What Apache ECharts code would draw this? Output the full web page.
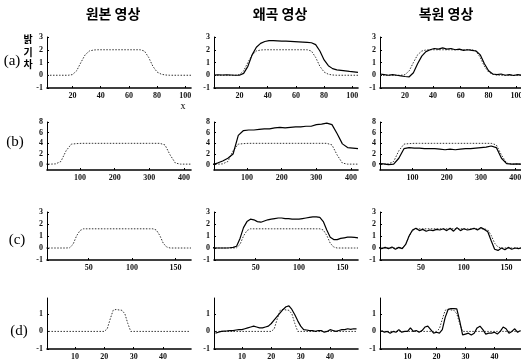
<!DOCTYPE html>
<html>
<head>
<meta charset="utf-8">
<script src="https://cdn.jsdelivr.net/npm/echarts@6/dist/echarts.min.js"></script>
<style>
  html, body { margin: 0; background: #fff; }
  #chart { width: 521px; height: 361px; }
</style>
</head>
<body>
<div id="chart"></div>
<script>
// column headings and row tags
const colTitles = ['원본 영상', '왜곡 영상', '복원 영상'];
const rowTags = ['(a)', '(b)', '(c)', '(d)'];

// row (a)
const aX = [2, 5, 8, 11, 14, 17, 20, 23, 26, 29, 32, 35, 38, 41, 44, 47, 50, 53, 56, 59, 62, 65, 68, 71, 74, 77, 80, 83, 86, 89, 92, 95, 98, 101, 104];
const aOrig = [0, 0, 0, 0, 0, 0, 0.05, 0.35, 1.0, 1.6, 1.9, 1.98, 2, 2, 2, 2, 2, 2, 2, 2, 2, 2, 2, 1.9, 1.4, 0.7, 0.25, 0.08, 0.02, 0, 0, 0, 0, 0, 0];
const aDist = [0.02, 0.03, 0.02, 0.04, 0.02, 0, 0, 0.15, 0.7, 1.6, 2.2, 2.5, 2.65, 2.72, 2.72, 2.7, 2.68, 2.68, 2.66, 2.64, 2.62, 2.6, 2.58, 2.55, 2.4, 1.9, 1.2, 0.75, 0.52, 0.42, 0.38, 0.34, 0.3, 0.27, 0.22];
const aRest = [0.1, 0.05, 0, 0.05, 0, -0.05, -0.1, -0.12, 0.2, 0.9, 1.5, 1.85, 2.0, 2.1, 2.05, 2.15, 2.05, 2.1, 2.0, 2.05, 1.95, 2.0, 1.95, 1.9, 1.6, 0.9, 0.35, 0.1, 0.05, 0.1, 0, 0.05, -0.02, 0.05, 0];
const aXTicks = [20, 40, 60, 80, 100];
const aYTicks = [-1, 0, 1, 2, 3];

// row (b)
const bX = [0, 15, 30, 45, 60, 75, 90, 105, 120, 135, 150, 165, 180, 195, 210, 225, 240, 255, 270, 285, 300, 315, 330, 345, 360, 375, 390, 405, 420];
const bOrig = [0.1, 0.1, 0.15, 0.6, 2.6, 3.85, 3.95, 4, 4, 4, 4, 4, 4, 4, 4, 4, 4, 4, 4, 4, 4, 4, 4, 3.7, 1.8, 0.3, 0.1, 0.1, 0.1];
const bDist = [0, 0.3, 0.7, 1.2, 2.0, 5.5, 6.4, 6.5, 6.5, 6.6, 6.7, 6.7, 6.9, 7.0, 6.9, 7.0, 7.1, 7.1, 7.2, 7.2, 7.5, 7.6, 7.8, 7.5, 5.8, 3.9, 3.2, 3.1, 3.0];
const bRest = [0.2, 0.15, 0, 0.1, 1.2, 3.0, 3.2, 3.1, 3.1, 3.0, 3.0, 3.0, 2.9, 2.8, 2.9, 2.8, 2.9, 3.0, 3.0, 3.1, 3.2, 3.3, 3.5, 3.2, 1.2, 0.2, 0.1, 0.15, 0.1];
const bXTicks = [100, 200, 300, 400];
const bYTicks = [0, 2, 4, 6, 8];

// row (c)
const cX = [0, 4, 8, 12, 16, 20, 24, 28, 32, 36, 40, 44, 48, 52, 56, 60, 64, 68, 72, 76, 80, 84, 88, 92, 96, 100, 104, 108, 112, 116, 120, 124, 128, 132, 136, 140, 144, 148, 152, 156, 160, 164, 168];
const cOrig = [0, 0, 0, 0, 0, 0, 0, 0.02, 0.3, 1.0, 1.45, 1.6, 1.6, 1.6, 1.6, 1.6, 1.6, 1.6, 1.6, 1.6, 1.6, 1.6, 1.6, 1.6, 1.6, 1.6, 1.6, 1.6, 1.6, 1.6, 1.6, 1.6, 1.5, 1.05, 0.4, 0.08, 0, 0, 0, 0, 0, 0, 0];
const cDist = [0.05, 0, 0, 0, 0, 0.02, 0.05, 0.15, 0.8, 1.7, 2.2, 2.4, 2.35, 2.2, 2.15, 2.25, 2.35, 2.4, 2.45, 2.5, 2.5, 2.45, 2.45, 2.4, 2.4, 2.4, 2.45, 2.5, 2.55, 2.6, 2.6, 2.55, 2.2, 1.5, 0.9, 0.7, 0.7, 0.8, 0.85, 0.9, 0.9, 0.88, 0.85];
const cRest = [0.05, -0.05, 0.05, -0.05, 0.08, -0.1, 0.05, -0.05, 0.3, 1.0, 1.5, 1.65, 1.45, 1.55, 1.4, 1.5, 1.45, 1.55, 1.5, 1.6, 1.45, 1.65, 1.4, 1.7, 1.45, 1.6, 1.5, 1.55, 1.65, 1.5, 1.7, 1.55, 1.35, 0.6, -0.1, -0.2, 0, -0.15, 0.05, -0.1, 0, -0.05, 0.02];
const cXTicks = [50, 100, 150];
const cYTicks = [-1, 0, 1, 2, 3];

// row (d)
const dX = [1, 2, 3, 4, 5, 6, 7, 8, 9, 10, 11, 12, 13, 14, 15, 16, 17, 18, 19, 20, 21, 22, 23, 24, 25, 26, 27, 28, 29, 30, 31, 32, 33, 34, 35, 36, 37, 38, 39, 40, 41, 42, 43, 44, 45, 46, 47, 48, 49];
const dOrig = [0, 0, 0, 0, 0, 0, 0, 0, 0, 0, 0, 0, 0, 0, 0, 0, 0, 0, 0, 0, 0.15, 0.7, 1.2, 1.25, 1.22, 1.2, 1.0, 0.45, 0, 0, 0, 0, 0, 0, 0, 0, 0, 0, 0, 0, 0, 0, 0, 0, 0, 0, 0, 0, 0];
const dDist = [-0.1, -0.05, 0, 0.02, 0.03, 0.05, 0.05, 0.08, 0.1, 0.1, 0.15, 0.2, 0.25, 0.3, 0.25, 0.2, 0.2, 0.25, 0.3, 0.45, 0.65, 0.85, 1.05, 1.25, 1.4, 1.45, 1.25, 0.95, 0.6, 0.3, 0.1, 0.08, 0.05, 0.05, 0, 0.05, 0.05, -0.05, 0, 0.1, 0.05, 0, 0.05, 0.1, 0.1, 0.15, 0.12, 0.15, 0.15];
const dRest = [0.05, -0.05, 0, -0.1, 0, -0.05, 0.1, -0.05, 0, 0, 0.2, 0, 0.05, -0.05, 0.05, 0.25, 0.3, 0.1, -0.1, -0.05, -0.1, 0.1, 0.8, 1.25, 1.3, 1.3, 1.28, 0.6, -0.2, -0.15, -0.1, -0.2, -0.1, 0.2, 0.3, 0.1, -0.15, -0.1, -0.1, -0.05, -0.15, 0, 0.25, 0.15, -0.1, 0, 0.15, -0.05, 0.05];
const dXTicks = [10, 20, 30, 40];
const dYTicks = [-1, 0, 1];

const rows = [
  { x: aX, orig: aOrig, dist: aDist, rest: aRest, xTicks: aXTicks, yTicks: aYTicks, xMin: 2, xMax: 104, yMin: -1, yMax: 3, top: 37, height: 51 },
  { x: bX, orig: bOrig, dist: bDist, rest: bRest, xTicks: bXTicks, yTicks: bYTicks, xMin: 5, xMax: 420, yMin: -1, yMax: 8, top: 122, height: 48 },
  { x: cX, orig: cOrig, dist: cDist, rest: cRest, xTicks: cXTicks, yTicks: cYTicks, xMin: 2, xMax: 168, yMin: -1, yMax: 3, top: 212, height: 48 },
  { x: dX, orig: dOrig, dist: dDist, rest: dRest, xTicks: dXTicks, yTicks: dYTicks, xMin: 0.5, xMax: 49.5, yMin: -1, yMax: 1.9, top: 298, height: 51 },
];
const cols = [
  { left: 47, width: 144, center: 113 },
  { left: 214, width: 144, center: 280 },
  { left: 380, width: 142, center: 446 },
];
const tagPos = [[12, 61], [15, 142], [17, 240], [19, 331]];

const labelFont = { fontSize: 8, color: '#111', fontFamily: 'Liberation Serif', fontWeight: 'bold' };
const grid = [];
const xAxis = [];
const yAxis = [];
const series = [];

rows.forEach((r) => {
  cols.forEach((c, ci) => {
    const k = grid.length;
    grid.push({ left: c.left, top: r.top, width: c.width, height: r.height, outerBoundsMode: 'none' });
    xAxis.push({
      type: 'value', gridIndex: k, min: r.xMin, max: r.xMax,
      axisLine: { onZero: false, lineStyle: { color: '#000', width: 1.6 } },
      axisTick: { inside: true, length: 2, customValues: r.xTicks, lineStyle: { color: '#000' } },
      axisLabel: Object.assign({ customValues: r.xTicks, margin: 4 }, labelFont),
      splitLine: { show: false },
    });
    yAxis.push({
      type: 'value', gridIndex: k, min: r.yMin, max: r.yMax,
      axisLine: { show: true, onZero: false, lineStyle: { color: '#000', width: 1 } },
      axisTick: { show: true, inside: true, length: 2, customValues: r.yTicks, lineStyle: { color: '#000' } },
      axisLabel: Object.assign({ customValues: r.yTicks, margin: 4 }, labelFont),
      splitLine: { show: false },
    });
    const pair = (ys) => r.x.map((x, i) => [x, ys[i]]);
    series.push({
      type: 'line', xAxisIndex: k, yAxisIndex: k, data: pair(r.orig),
      showSymbol: false, silent: true,
      lineStyle: { type: [1.5, 1.5], width: 1, color: '#333' },
    });
    if (ci > 0) {
      series.push({
        type: 'line', xAxisIndex: k, yAxisIndex: k, data: pair(ci === 1 ? r.dist : r.rest),
        showSymbol: false, silent: true,
        lineStyle: { width: 1.2, color: '#000' },
      });
    }
  });
});

const graphic = [];
colTitles.forEach((t, i) => {
  graphic.push({
    type: 'text', x: cols[i].center, y: 14,
    style: { text: t, font: 'bold 14px "Noto Sans CJK KR"', fill: '#000', textAlign: 'center', textVerticalAlign: 'middle' },
  });
});
rowTags.forEach((t, i) => {
  graphic.push({
    type: 'text', x: tagPos[i][0], y: tagPos[i][1],
    style: { text: t, font: '15px "Liberation Serif"', fill: '#000', textAlign: 'center', textVerticalAlign: 'middle' },
  });
});
graphic.push({
  type: 'text', x: 28, y: 33,
  style: { text: '밝\n기\n차', font: 'bold 10px "Noto Sans CJK KR"', lineHeight: 12.5, fill: '#000', textAlign: 'center', textVerticalAlign: 'top' },
});
graphic.push({
  type: 'text', x: 183, y: 106,
  style: { text: 'x', font: '10px "Liberation Serif"', fill: '#000', textAlign: 'center', textVerticalAlign: 'middle' },
});

echarts.init(document.getElementById('chart')).setOption({
  animation: false,
  backgroundColor: '#fff',
  grid,
  xAxis,
  yAxis,
  series,
  graphic,
});
</script>
</body>
</html>
